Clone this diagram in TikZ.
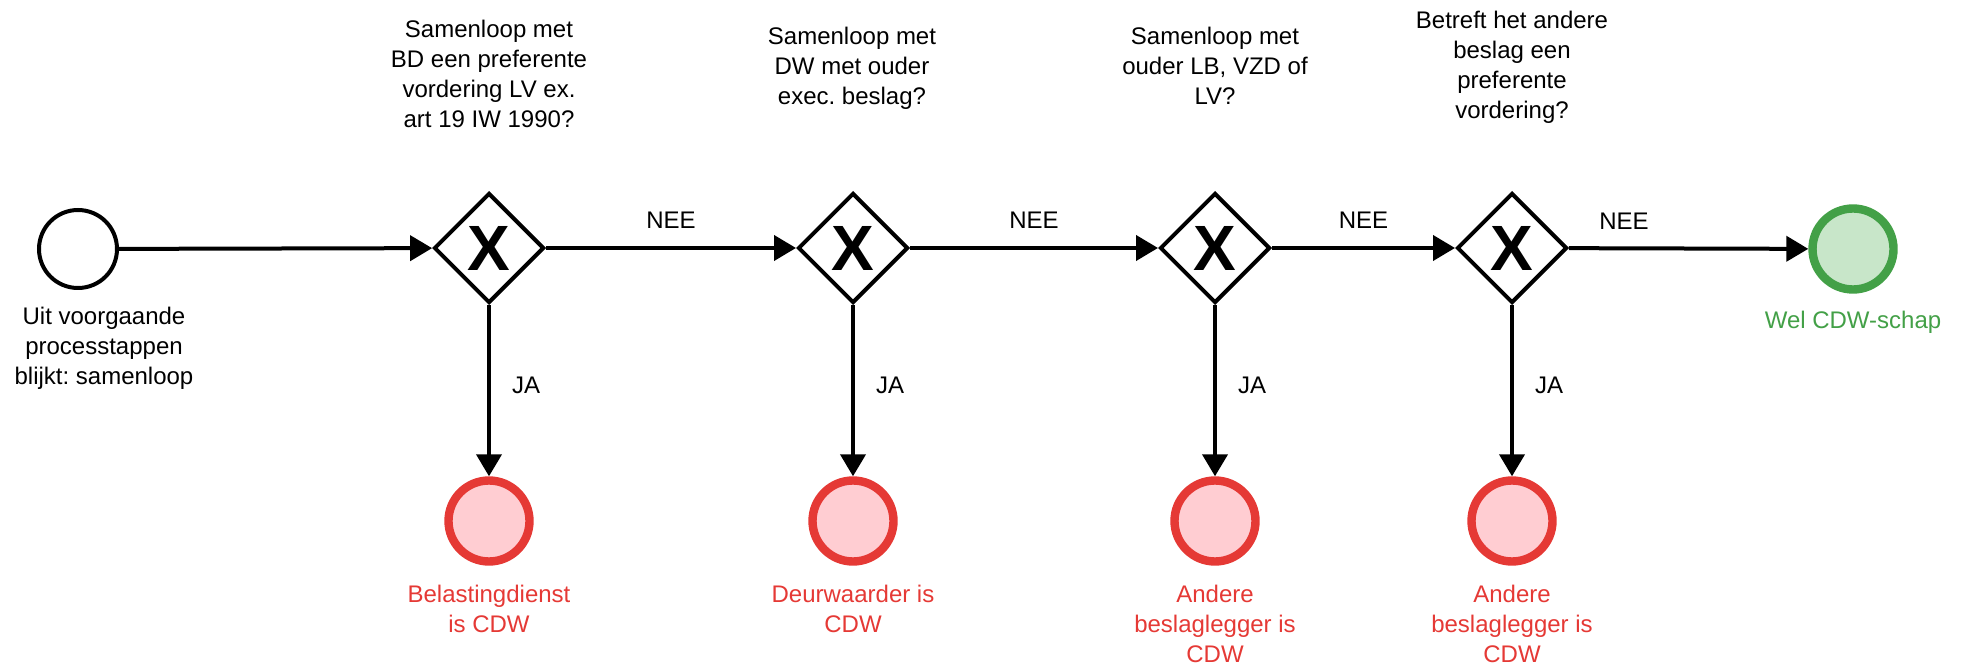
\documentclass[tikz,border=0pt]{standalone}
\usepackage{fontspec}
\setmainfont{Liberation Sans}
\usetikzlibrary{shapes.geometric,arrows.meta}
\frenchspacing

\definecolor{foutrood}{RGB}{229,57,53}
\definecolor{foutroodvul}{RGB}{255,205,210}
\definecolor{goedgroen}{RGB}{67,160,71}
\definecolor{goedgroenvul}{RGB}{200,230,201}

\tikzset{
  tekst/.style={font=\fontsize{12}{15}\selectfont, align=center, inner sep=0pt},
  startgebeurtenis/.style={circle, draw=black, line width=2pt, minimum size=39pt, inner sep=0pt},
  poort/.style={diamond, draw=black, line width=2pt, minimum size=55pt, inner sep=0pt,
    font=\fontsize{32}{32}\selectfont\bfseries},
  stopfout/.style={circle, draw=foutrood, fill=foutroodvul, line width=4.2pt, minimum size=40.5pt, inner sep=0pt},
  stopgoed/.style={circle, draw=goedgroen, fill=goedgroenvul, line width=4.2pt, minimum size=40.5pt, inner sep=0pt},
  stroom/.style={-{Triangle[length=11pt,width=12.5pt]}, line width=2pt},
}

\begin{document}
\begin{tikzpicture}[x=0.5pt,y=-0.5pt]
    \useasboundingbox (0,0) rectangle (1970,667);

    % startgebeurtenis
    \node[startgebeurtenis] (start) at (78,249) {};
    \node[tekst, anchor=north] (startlabel) at (104,307) {Uit voorgaande\\processtappen\\blijkt: samenloop};

    % poorten met hun vragen
    \node[poort] (gw1) at (489,248) {X};
    \node[poort] (gw2) at (853,248) {X};
    \node[poort] (gw3) at (1215,248) {X};
    \node[poort] (gw4) at (1512,248) {X};

    \node[tekst, anchor=north] (vraag1) at (489,20) {Samenloop met\\BD een preferente\\vordering LV ex.\\art 19 IW 1990?};
    \node[tekst, anchor=north] (vraag2) at (852,27) {Samenloop met\\DW met ouder\\exec. beslag?};
    \node[tekst, anchor=north] (vraag3) at (1215,27) {Samenloop met\\ouder LB, VZD of\\LV?};
    \node[tekst, anchor=north] (vraag4) at (1512,11) {Betreft het andere\\beslag een\\preferente\\vordering?};

    % eindgebeurtenissen
    \node[stopfout] (eind1) at (489,521) {};
    \node[stopfout] (eind2) at (853,521) {};
    \node[stopfout] (eind3) at (1215,521) {};
    \node[stopfout] (eind4) at (1512,521) {};
    \node[stopgoed] (wel) at (1853,249) {};

    \node[tekst, text=foutrood, anchor=north] (eindlabel1) at (489,585) {Belastingdienst\\is CDW};
    \node[tekst, text=foutrood, anchor=north] (eindlabel2) at (853,585) {Deurwaarder is\\CDW};
    \node[tekst, text=foutrood, anchor=north] (eindlabel3) at (1215,585) {Andere\\beslaglegger is\\CDW};
    \node[tekst, text=foutrood, anchor=north] (eindlabel4) at (1512,585) {Andere\\beslaglegger is\\CDW};
    \node[tekst, text=goedgroen, anchor=north] (wellabel) at (1853,311) {Wel CDW-schap};

    % stromen
    \draw[stroom] (start) -- (gw1);
    \draw[stroom] (gw1) -- node[tekst, midway, above=8.5pt] {NEE} (gw2);
    \draw[stroom] (gw2) -- node[tekst, midway, above=8.5pt] {NEE} (gw3);
    \draw[stroom] (gw3) -- node[tekst, midway, above=8.5pt] {NEE} (gw4);
    \draw[stroom] (gw4) -- node[tekst, pos=0.23, above=8.5pt] {NEE} (wel);

    \draw[stroom] (gw1) -- node[tekst, pos=0.47, right=10.5pt] {JA} (eind1);
    \draw[stroom] (gw2) -- node[tekst, pos=0.47, right=10.5pt] {JA} (eind2);
    \draw[stroom] (gw3) -- node[tekst, pos=0.47, right=10.5pt] {JA} (eind3);
    \draw[stroom] (gw4) -- node[tekst, pos=0.47, right=10.5pt] {JA} (eind4);
\end{tikzpicture}
\end{document}
